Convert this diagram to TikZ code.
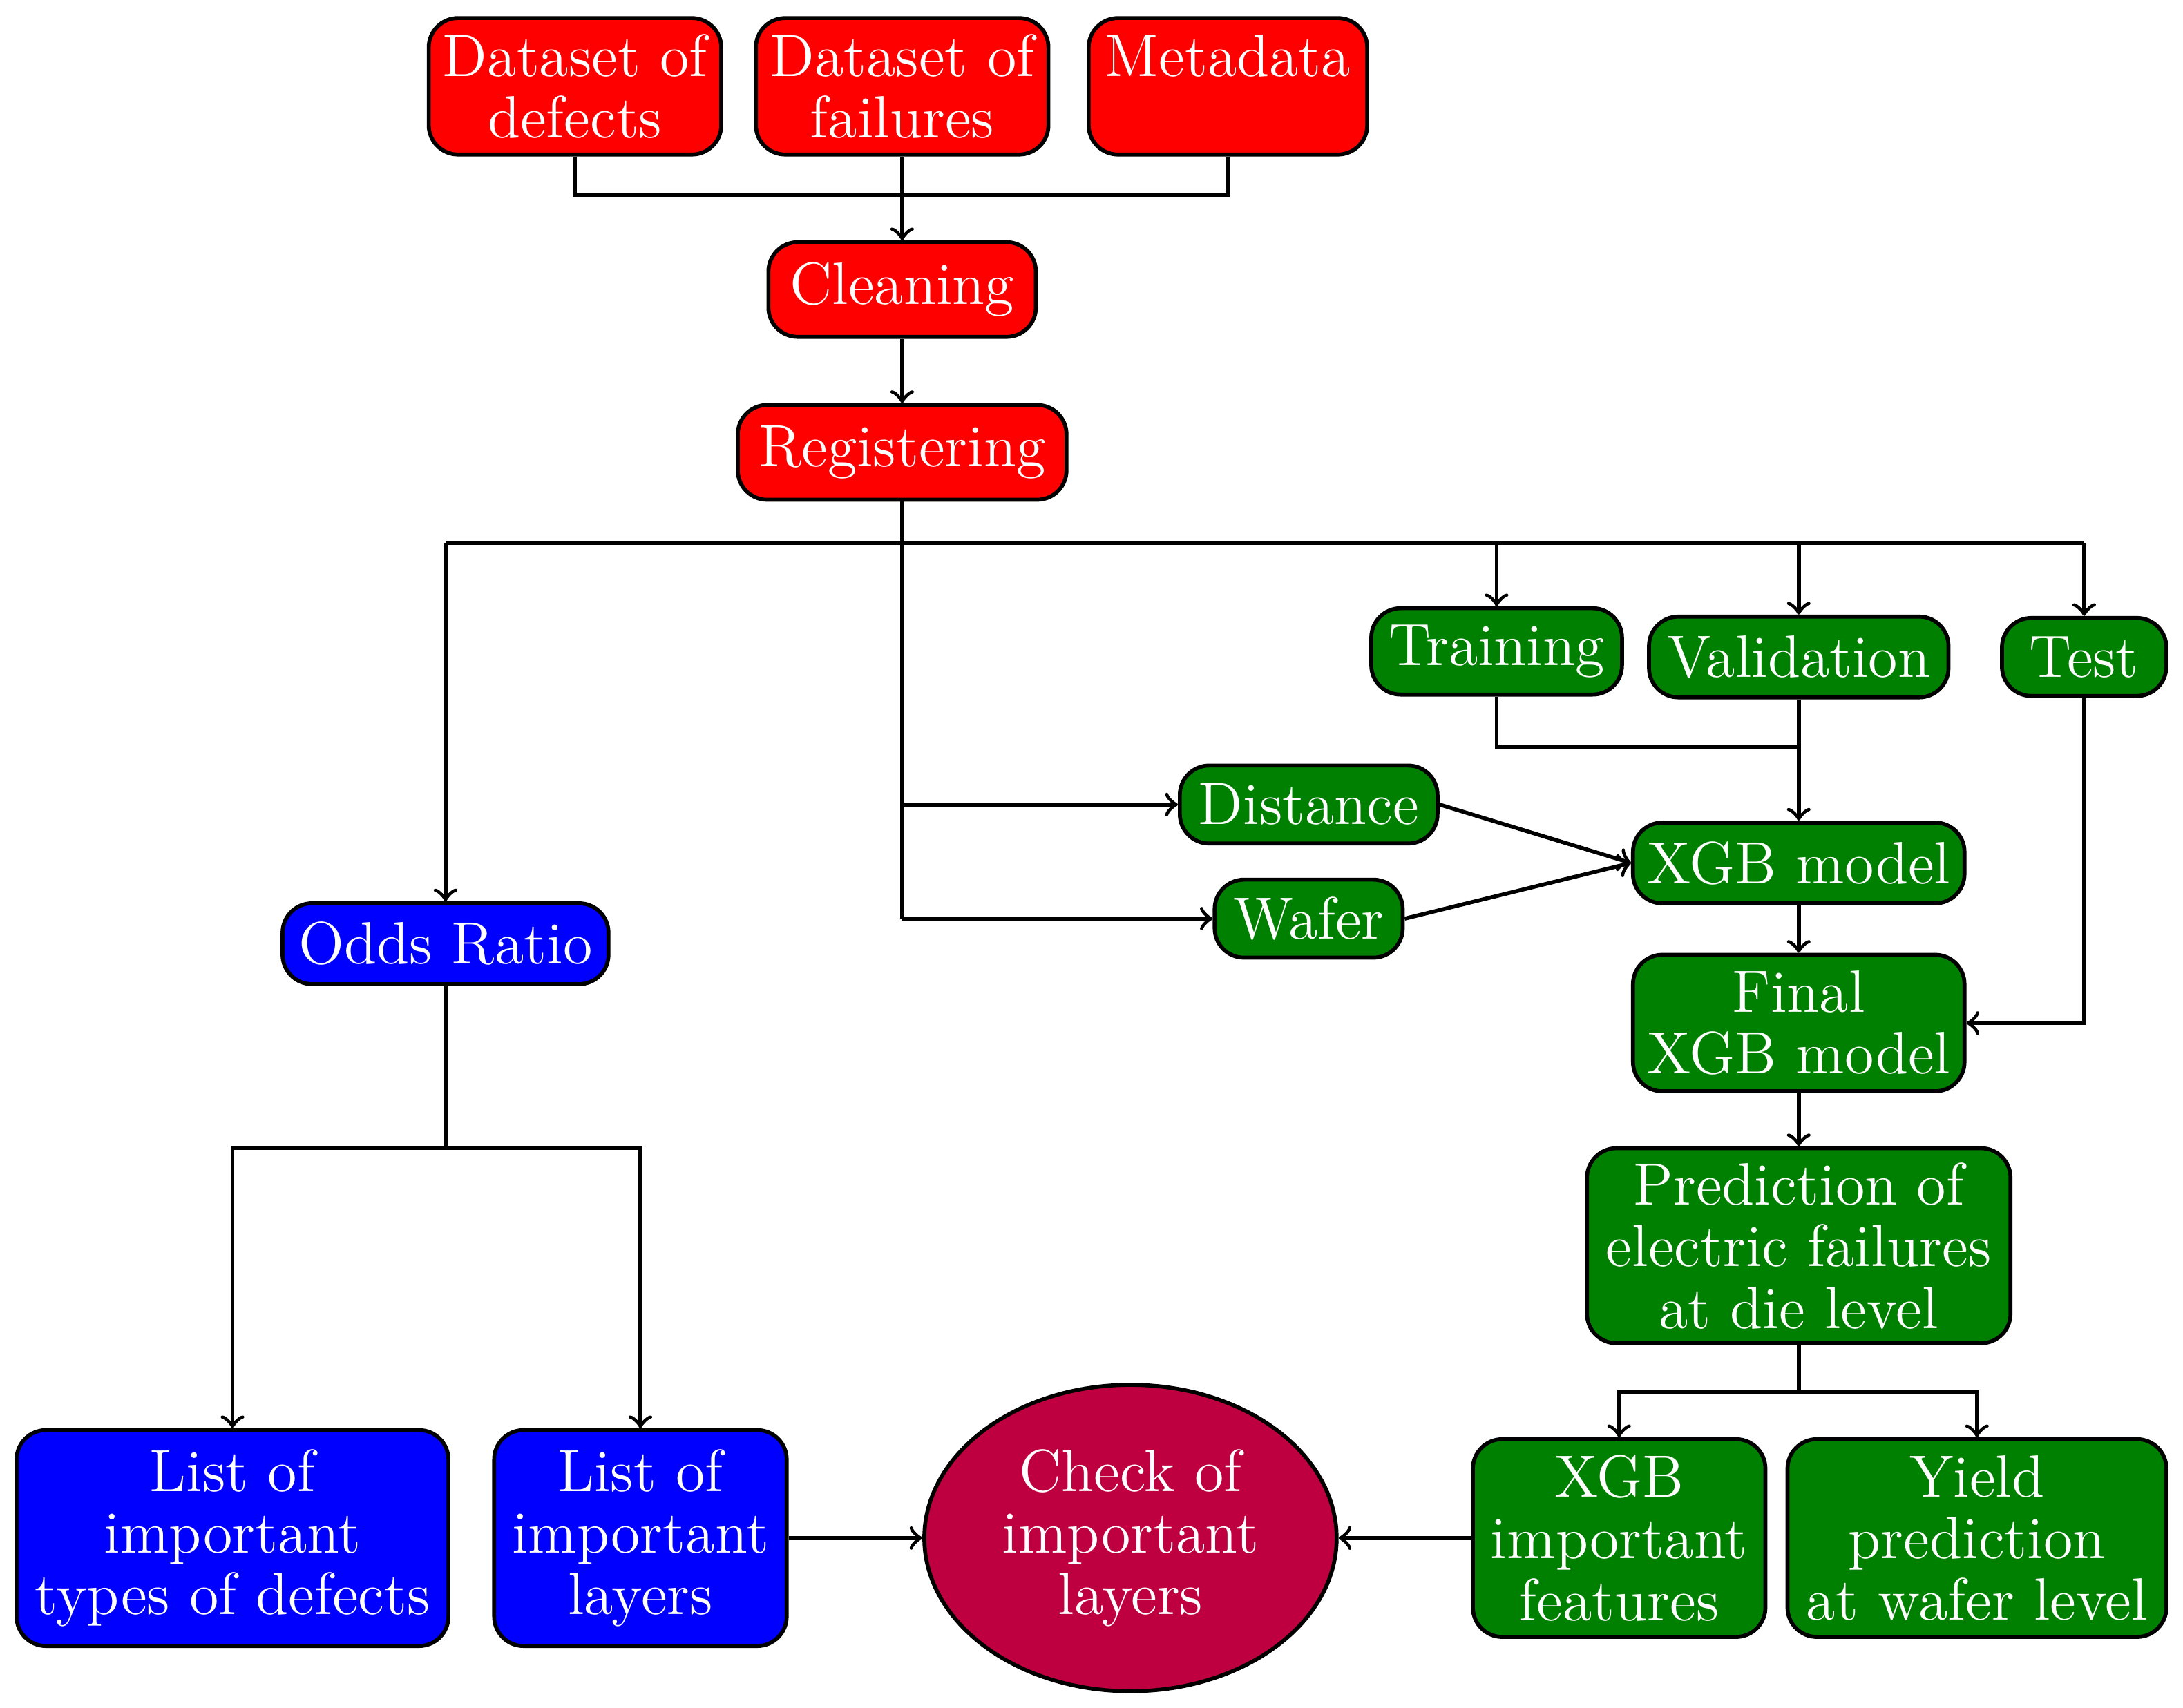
\documentclass[tikz,border=0pt]{standalone}
\usepackage{tikz}
\usetikzlibrary{shapes.geometric, arrows, positioning}
\definecolor{darkgreen}{RGB}{0,128,0}
\begin{document}
\begin{tikzpicture}[
    x=0.01cm, y=-0.01cm,
    box/.style={rectangle, draw, thick, rounded corners=6pt, text=white, align=center, inner sep=2pt, font=\fontsize{12.2}{12.6}\selectfont},
    data/.style={box, fill=red},
    model/.style={box, fill=darkgreen},
    odds/.style={box, fill=blue},
    arrow/.style={->, thick}
]
\useasboundingbox (0,0) rectangle (1568,1227);
% Data preparation
\node[data, minimum width=2.1cm, minimum height=0.98cm] (defects) at (413,62) {Dataset of\\defects};
\node[data, minimum width=2.1cm, minimum height=0.98cm] (failures) at (648,62) {Dataset of\\failures};
\node[data, minimum width=2.0cm, minimum height=0.98cm] (metadata) at (882,62) {Metadata\\\mbox{}};
\node[data, minimum width=1.92cm, minimum height=0.68cm] (cleaning) at (648,208) {Cleaning};
\node[data, minimum width=2.36cm, minimum height=0.68cm] (register) at (648,325) {Registering};

% Model branch
\node[model, minimum width=1.8cm, minimum height=0.62cm] (training) at (1075,468) {Training};
\node[model, minimum width=2.15cm, minimum height=0.58cm] (validation) at (1292,472) {Validation};
\node[model, minimum width=1.18cm, minimum height=0.56cm] (test) at (1497,472) {Test};
\node[model, minimum width=1.85cm, minimum height=0.56cm] (distance) at (940,578) {Distance};
\node[model, minimum width=1.35cm, minimum height=0.56cm] (wafer) at (940,660) {Wafer};
\node[model, minimum width=2.38cm, minimum height=0.58cm] (xgb) at (1292,620) {XGB model};
\node[model, minimum width=2.38cm, minimum height=0.98cm] (final) at (1292,735) {Final\\XGB model};
\node[model, minimum width=3.04cm, minimum height=1.4cm] (predict) at (1292,895) {Prediction of\\electric failures\\at die level};
\node[model, minimum width=2.1cm, minimum height=1.42cm] (features) at (1163,1105) {XGB\\important\\features};
\node[model, minimum width=2.72cm, minimum height=1.42cm] (yield) at (1420,1105) {Yield\\prediction\\at wafer level};

% Odds ratio branch
\node[odds, minimum width=2.34cm, minimum height=0.58cm] (ratio) at (320,678) {Odds Ratio};
\node[odds, minimum width=3.1cm, minimum height=1.55cm] (types) at (167,1105) {List of\\important\\types of defects};
\node[odds, minimum width=2.1cm, minimum height=1.55cm] (layers) at (460,1105) {List of\\important\\layers};
\node[ellipse, draw, thick, fill=purple, text=white, align=center, font=\fontsize{12.2}{12.6}\selectfont, minimum width=2.96cm, minimum height=2.2cm, inner sep=0pt] (check) at (812,1105) {Check of\\important\\layers};

% Arrows
\draw[thick] (defects.south) |- (648,140) -| (metadata.south);
\draw[arrow] (failures) -- (cleaning);
\draw[arrow] (cleaning) -- (register);
\draw[thick] (320,390) -- (1497,390);
\draw[thick] (register.south) -- (648,660);
\draw[arrow] (320,390) -- (ratio);
\draw[arrow] (1075,390) -- (training);
\draw[arrow] (1292,390) -- (validation);
\draw[arrow] (1497,390) -- (test);
\draw[arrow] (648,578) -- (distance);
\draw[arrow] (648,660) -- (wafer);
\draw[thick] (training.south) |- (1292,537);
\draw[arrow] (validation) -- (xgb);
\draw[arrow] (distance.east) -- (xgb.west);
\draw[arrow] (wafer.east) -- (xgb.west);
\draw[arrow] (xgb) -- (final);
\draw[arrow] (test.south) |- (final.east);
\draw[arrow] (final) -- (predict);
\draw[arrow] (predict.south) |- (1163,1000) -- (features);
\draw[arrow] (predict.south) |- (1420,1000) -- (yield);
\draw[arrow] (ratio.south) |- (167,825) -- (types);
\draw[arrow] (ratio.south) |- (460,825) -- (layers);
\draw[arrow] (layers) -- (check);
\draw[arrow] (features) -- (check);
\end{tikzpicture}
\end{document}
